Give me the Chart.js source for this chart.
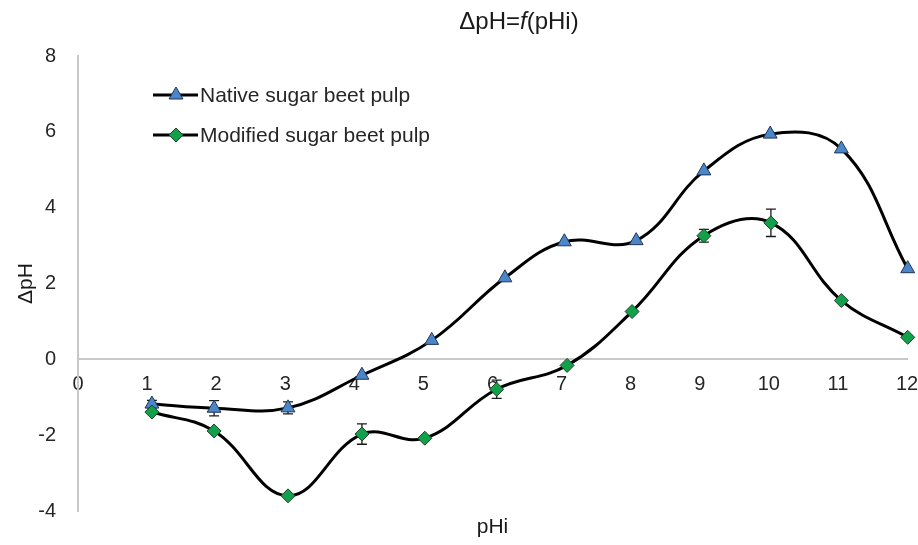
<!DOCTYPE html>
<html><head><meta charset="utf-8">
<script src="https://cdn.jsdelivr.net/npm/chart.js@4"></script>
<style>html,body{margin:0;padding:0;background:#fff}#wrap{width:918px;height:545px}</style>
</head><body><div id="wrap"><canvas id="c" width="918" height="545"></canvas></div>
<script>
const titleParts = ['ΔpH=', 'f', '(pHi)'];
const xTitle = 'pHi';
const yTitle = 'ΔpH';
const seriesNames = ['Native sugar beet pulp', 'Modified sugar beet pulp'];

const nativeX = [1.07, 1.97, 3.04, 4.11, 5.12, 6.18, 7.04, 8.08, 9.06, 10.02, 11.05, 12.01];
const nativeY = [-1.18, -1.29, -1.28, -0.42, 0.5, 2.15, 3.1, 3.13, 4.97, 5.94, 5.55, 2.39];
const nativeErr = [0.1, 0.2, 0.16, 0, 0, 0, 0, 0, 0, 0, 0, 0];

const modX = [1.07, 1.97, 3.04, 4.11, 5.02, 6.06, 7.08, 8.02, 9.06, 10.03, 11.05, 12.01];
const modY = [-1.39, -1.89, -3.6, -1.97, -2.08, -0.79, -0.16, 1.26, 3.26, 3.6, 1.55, 0.58];
const modErr = [0, 0, 0, 0.27, 0, 0.24, 0, 0, 0.17, 0.36, 0, 0];

const xMin = 0, xMax = 12, xStep = 1;
const yMin = -4, yMax = 8, yStep = 2;

const FONT = "'Liberation Sans', Arial, sans-serif";
const toPts = (xs, ys) => xs.map((x, i) => ({x: x, y: ys[i]}));

const nativeStyle = {shape: 'triangle', fill: '#4a86c8', stroke: '#1f3556', r: 8};
const modStyle = {shape: 'diamond', fill: '#13a04a', stroke: '#1b4426', r: 7};

function drawMarker(ctx, st, x, y) {
  ctx.save();
  ctx.beginPath();
  const r = st.r;
  if (st.shape === 'triangle') {
    ctx.moveTo(x, y - r);
    ctx.lineTo(x + r * 0.866, y + r * 0.5);
    ctx.lineTo(x - r * 0.866, y + r * 0.5);
  } else {
    ctx.moveTo(x, y - r); ctx.lineTo(x + r, y); ctx.lineTo(x, y + r); ctx.lineTo(x - r, y);
  }
  ctx.closePath();
  ctx.fillStyle = st.fill; ctx.fill();
  ctx.lineWidth = 1; ctx.strokeStyle = st.stroke; ctx.stroke();
  ctx.restore();
}

const errorBars = {
  id: 'errorBars',
  beforeDatasetsDraw(chart) {
    const ctx = chart.ctx, ys = chart.scales.y;
    chart.data.datasets.forEach((ds, i) => {
      const meta = chart.getDatasetMeta(i);
      meta.data.forEach((pt, j) => {
        const e = ds.errors[j];
        if (!e) return;
        const v = ds.data[j].y;
        const t = ys.getPixelForValue(v + e), b = ys.getPixelForValue(v - e);
        ctx.save();
        ctx.strokeStyle = '#1a1a1a'; ctx.lineWidth = 1.3;
        ctx.beginPath();
        ctx.moveTo(pt.x, t); ctx.lineTo(pt.x, b);
        ctx.moveTo(pt.x - 5, t); ctx.lineTo(pt.x + 5, t);
        ctx.moveTo(pt.x - 5, b); ctx.lineTo(pt.x + 5, b);
        ctx.stroke();
        ctx.restore();
      });
    });
  }
};

const titleAndLegend = {
  id: 'titleAndLegend',
  afterDraw(chart) {
    const ctx = chart.ctx, ca = chart.chartArea;
    ctx.save();
    const fN = '24px ' + FONT, fI = 'italic 24px ' + FONT;
    const fonts = [fN, fI, fN];
    const widths = titleParts.map((p, i) => { ctx.font = fonts[i]; return ctx.measureText(p).width; });
    const total = widths.reduce((a, b) => a + b, 0);
    let x = 519 - total / 2;
    ctx.fillStyle = '#1a1a1a'; ctx.textBaseline = 'middle'; ctx.textAlign = 'left';
    titleParts.forEach((p, i) => { ctx.font = fonts[i]; ctx.fillText(p, x, 22); x += widths[i]; });
    ctx.restore();
    const styles = [nativeStyle, modStyle];
    seriesNames.forEach((name, i) => {
      const y = ca.top + 39 + i * 40;
      const x0 = ca.left + 75;
      ctx.save();
      ctx.strokeStyle = '#000'; ctx.lineWidth = 3;
      ctx.beginPath(); ctx.moveTo(x0, y); ctx.lineTo(x0 + 45, y); ctx.stroke();
      ctx.restore();
      drawMarker(ctx, styles[i], x0 + 23, y);
      ctx.save();
      ctx.font = '21px ' + FONT; ctx.fillStyle = '#262626';
      ctx.textBaseline = 'middle'; ctx.textAlign = 'left';
      ctx.fillText(name, x0 + 47, y + 1);
      ctx.restore();
    });
  }
};

new Chart(document.getElementById('c'), {
  type: 'line',
  data: {
    datasets: [
      {
        label: seriesNames[0], data: toPts(nativeX, nativeY), errors: nativeErr,
        borderColor: '#000', borderWidth: 3, tension: 0.4, fill: false, clip: false,
        pointStyle: 'triangle', pointRadius: nativeStyle.r, pointBackgroundColor: nativeStyle.fill,
        pointBorderColor: nativeStyle.stroke, pointBorderWidth: 1, order: 2
      },
      {
        label: seriesNames[1], data: toPts(modX, modY), errors: modErr,
        borderColor: '#000', borderWidth: 3, tension: 0.4, fill: false, clip: false,
        pointStyle: 'rectRot', pointRadius: modStyle.r, pointBackgroundColor: modStyle.fill,
        pointBorderColor: modStyle.stroke, pointBorderWidth: 1, order: 1
      }
    ]
  },
  options: {
    responsive: false, animation: false, devicePixelRatio: 1,
    layout: {padding: {top: 56, bottom: 0, left: 10, right: 11}},
    plugins: {legend: {display: false}, title: {display: false}, tooltip: {enabled: false}},
    scales: {
      x: {
        type: 'linear', position: 'bottom', min: xMin, max: xMax,
        ticks: {display: false}, grid: {display: false, drawTicks: false}, border: {display: false},
        title: {display: true, text: xTitle, font: {family: FONT, size: 21}, color: '#1a1a1a', padding: {top: 4, bottom: 4}},
        afterFit(s) { s.height = 33; s.paddingLeft = 0; s.paddingRight = 0; }
      },
      x2: {
        type: 'linear', axis: 'x', position: {y: 0}, min: xMin, max: xMax,
        ticks: {stepSize: xStep, font: {family: FONT, size: 20}, color: '#262626', padding: 13},
        grid: {display: false, drawTicks: false},
        border: {display: true, color: '#c8c8c8', width: 2},
        afterFit(s) { s.paddingLeft = 0; s.paddingRight = 0; }
      },
      y: {
        type: 'linear', position: 'left', min: yMin, max: yMax,
        ticks: {stepSize: yStep, font: {family: FONT, size: 20}, color: '#262626', padding: 22},
        grid: {display: false, drawTicks: false},
        border: {display: true, color: '#c8c8c8', width: 2},
        title: {display: true, text: yTitle, font: {family: FONT, size: 21}, color: '#1a1a1a', padding: {top: 4, bottom: 4}},
        afterFit(s) { s.width = 68; }
      }
    }
  },
  plugins: [errorBars, titleAndLegend]
});
</script>
</body></html>
